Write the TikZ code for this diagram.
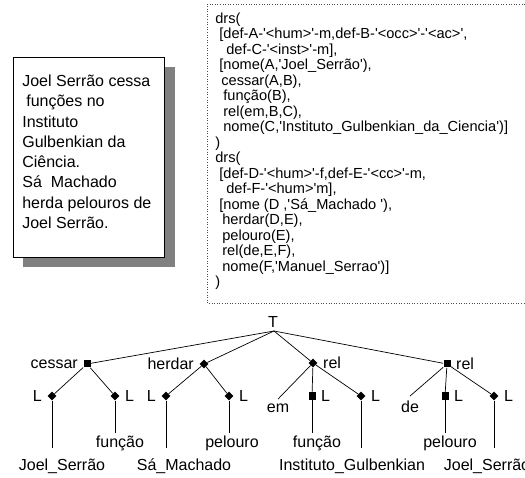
\documentclass[tikz,border=0pt]{standalone}
\usepackage{fontspec}
\setmainfont{Liberation Sans}
\usetikzlibrary{shapes.geometric}
\definecolor{shadowgray}{gray}{0.5}
\newcommand{\sq}{\textquotesingle}

\begin{document}
\begin{tikzpicture}[x=1pt,y=1pt,line width=0.7pt,
	sqmark/.style={rectangle, fill=black, inner sep=0pt, minimum size=7pt},
	dmmark/.style={diamond, fill=black, inner sep=0pt, minimum size=9pt},
	word/.style={font=\fontsize{16}{19}\selectfont, inner sep=2pt, anchor=base},
	low/.style={inner ysep=10pt},
	every label/.style={font=\fontsize{16}{19}\selectfont, inner sep=1pt},
	label distance=4pt]
	
	\useasboundingbox (0,0) rectangle (525,-478);
	
	% the sentence box
	\fill[shadowgray] (23,-67) rectangle (175,-267);
	\draw[fill=white, line width=0.6pt] (13,-57) rectangle (164,-257);
	\node[anchor=north west, align=left, inner sep=0pt, font=\fontsize{16}{20.3}\selectfont] (sentence) at (22,-74.5)
	{Joel Serrão cessa\\\hspace*{4pt}funções no\\Instituto\\Gulbenkian da\\Ciência.\\Sá\hspace*{9pt}Machado\\herda pelouros de\\Joel Serrão.};
	
	% the drs box
	\draw[dotted, line width=0.6pt, gray!60!black] (530,-4) -| (207,-303) -- (530,-303);
	\node[anchor=north west, align=left, inner sep=0pt, font=\fontsize{14.6}{15.5}\selectfont] (drs) at (215,-12.5)
	{drs(\\
		\hspace*{4pt}[def-A-\sq<hum>\sq-m,def-B-\sq<occ>\sq-\sq<ac>\sq,\\
		\hspace*{11pt}def-C-\sq<inst>\sq-m],\\
		\hspace*{4pt}[nome(A,\sq Joel\_Serrão\sq),\\
		\hspace*{6pt}cessar(A,B),\\
		\hspace*{8pt}função(B),\\
		\hspace*{8pt}rel(em,B,C),\\
		\hspace*{8pt}nome(C,\sq Instituto\_Gulbenkian\_da\_Ciencia\sq)]\\
		)\\
		drs(\\
		\hspace*{4pt}[def-D-\sq<hum>\sq-f,def-E-\sq<cc>\sq-m,\\
		\hspace*{11pt}def-F-\sq<hum>\sq m],\\
		\hspace*{4pt}[nome (D ,\sq Sá\_Machado \sq),\\
		\hspace*{7pt}herdar(D,E),\\
		\hspace*{7pt}pelouro(E),\\
		\hspace*{7pt}rel(de,E,F),\\
		\hspace*{7pt}nome(F,\sq Manuel\_Serrao\sq)]\\
		)};
	
	% the tree
	\coordinate (root) at (274,-331);
	\node[word] (t) at (273,-327.5) {T};
	
	\node[sqmark, label=left:cessar] (cessar) at (87,-364) {};
	\node[dmmark, label=left:herdar] (herdar) at (204,-364) {};
	\node[dmmark, label=right:rel] (rel1) at (313,-363) {};
	\node[sqmark, label=right:rel] (rel2) at (447,-364) {};
	
	\node[dmmark, label=left:L] (cA) at (52,-396) {};
	\node[dmmark, label=right:L] (cB) at (115,-396) {};
	\node[dmmark, label=left:L] (hD) at (166,-396) {};
	\node[dmmark, label=right:L] (hE) at (229,-396) {};
	\node[sqmark, label=right:L] (r1B) at (312,-396) {};
	\node[dmmark, label=right:L] (r1C) at (361,-396) {};
	\node[sqmark, label=right:L] (r2E) at (445,-396) {};
	\node[dmmark, label=right:L] (r2F) at (494,-396) {};
	
	\node[word, low] (joel1) at (62,-470) {Joel\_Serrão};
	\node[word] (funcao1) at (120,-447) {função};
	\node[word, low] (sa) at (184,-470) {Sá\_Machado};
	\node[word] (pelouro1) at (232,-447) {pelouro};
	\node[word, inner sep=4pt] (em) at (278,-412) {em};
	\node[word] (funcao2) at (317,-447) {função};
	\node[word, low] (inst) at (352,-470) {Instituto\_Gulbenkian};
	\node[word, inner sep=4pt] (de) at (410,-412) {de};
	\node[word] (pelouro2) at (450,-447) {pelouro};
	\node[word, low] (joel2) at (487,-470) {Joel\_Serrão};
	
	\draw (root) -- (cessar);
	\draw (root) -- (herdar);
	\draw (root) -- (rel1);
	\draw (root) -- (rel2);
	
	\draw (cessar) -- (cA);
	\draw (cessar) -- (cB);
	\draw (herdar) -- (hD);
	\draw (herdar) -- (hE);
	\draw (rel1) -- (em.north);
	\draw (rel1) -- (r1B);
	\draw (rel1) -- (r1C);
	\draw (rel2) -- (de.north);
	\draw (rel2) -- (r2E);
	\draw (rel2) -- (r2F);
	
	\draw (cA) -- (cA |- joel1.north);
	\draw (cB) -- (cB |- funcao1.north);
	\draw (hD) -- (hD |- sa.north);
	\draw (hE) -- (hE |- pelouro1.north);
	\draw (r1B) -- (r1B |- funcao2.north);
	\draw (r1C) -- (r1C |- inst.north);
	\draw (r2E) -- (r2E |- pelouro2.north);
	\draw (r2F) -- (r2F |- joel2.north);
\end{tikzpicture}
\end{document}
